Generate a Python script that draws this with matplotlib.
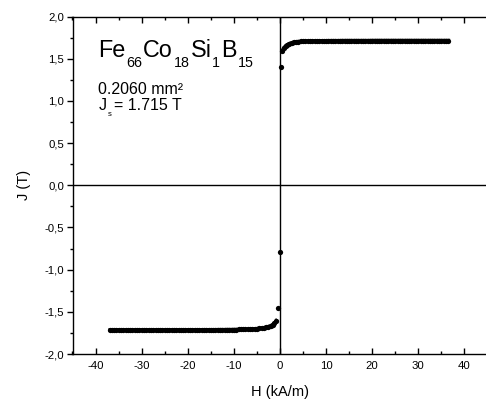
"""
Hysteresis loop J(H) for Fe66Co18Si1B15 ribbon.
"""

import numpy as np
import matplotlib.pyplot as plt
from matplotlib.ticker import MultipleLocator, FuncFormatter

plt.rcParams["font.family"] = ["Liberation Sans", "DejaVu Sans"]

# ascending branch (H > 0), kA/m and T
h_up = [0.15, 0.5, 0.8, 1.2, 1.6, 2.0, 2.5, 3.0, 3.5, 4.0, 4.5, 5.0, 5.5, 6.0,
        6.5, 7.0, 7.5, 8.0, 8.5, 9.0, 9.5, 10.0, 10.5, 11.0, 11.5, 12.0, 12.5,
        13.0, 13.5, 14.0, 14.5, 15.0, 15.5, 16.0, 16.5, 17.0, 17.5, 18.0, 18.5,
        19.0, 19.5, 20.0, 20.5, 21.0, 21.5, 22.0, 22.5, 23.0, 23.5, 24.0, 24.5,
        25.0, 25.5, 26.0, 26.5, 27.0, 27.5, 28.0, 28.5, 29.0, 29.5, 30.0, 30.5,
        31.0, 31.5, 32.0, 32.5, 33.0, 33.5, 34.0, 34.5, 35.0, 35.5, 36.0, 36.5]
j_up = [1.40, 1.59, 1.625, 1.65, 1.665, 1.678, 1.688, 1.695, 1.70, 1.703,
        1.705, 1.707, 1.708, 1.709, 1.710, 1.710, 1.711, 1.711, 1.712, 1.712,
        1.712, 1.712, 1.713, 1.713, 1.713, 1.713, 1.713, 1.713, 1.714, 1.714,
        1.714, 1.714, 1.714, 1.714, 1.714, 1.714, 1.714, 1.714, 1.714, 1.714,
        1.714, 1.715, 1.715, 1.715, 1.715, 1.715, 1.715, 1.715, 1.715, 1.715,
        1.715, 1.715, 1.715, 1.715, 1.715, 1.715, 1.715, 1.715, 1.715, 1.715,
        1.715, 1.715, 1.715, 1.715, 1.715, 1.715, 1.715, 1.715, 1.715, 1.715,
        1.715, 1.715, 1.715, 1.715, 1.715]

# descending branch (H < 0)
h_down = [-0.05, -0.4, -0.8, -1.2, -1.6, -2.0, -2.5, -3.0, -3.5, -4.0, -4.5,
          -5.0, -5.5, -6.0, -6.5, -7.0, -7.5, -8.0, -8.5, -9.0, -9.5, -10.0,
          -10.5, -11.0, -11.5, -12.0, -12.5, -13.0, -13.5, -14.0, -14.5, -15.0,
          -15.5, -16.0, -16.5, -17.0, -17.5, -18.0, -18.5, -19.0, -19.5, -20.0,
          -20.5, -21.0, -21.5, -22.0, -22.5, -23.0, -23.5, -24.0, -24.5, -25.0,
          -25.5, -26.0, -26.5, -27.0, -27.5, -28.0, -28.5, -29.0, -29.5, -30.0,
          -30.5, -31.0, -31.5, -32.0, -32.5, -33.0, -33.5, -34.0, -34.5, -35.0,
          -35.5, -36.0, -36.5, -36.8]
j_down = [-0.79, -1.46, -1.605, -1.635, -1.652, -1.665, -1.675, -1.683, -1.689,
          -1.693, -1.697, -1.700, -1.702, -1.704, -1.705, -1.706, -1.707, -1.708,
          -1.709, -1.709, -1.710, -1.710, -1.711, -1.711, -1.711, -1.712, -1.712,
          -1.712, -1.712, -1.713, -1.713, -1.713, -1.713, -1.713, -1.713, -1.714,
          -1.714, -1.714, -1.714, -1.714, -1.714, -1.714, -1.714, -1.715, -1.715,
          -1.715, -1.715, -1.715, -1.715, -1.715, -1.715, -1.715, -1.715, -1.715,
          -1.715, -1.715, -1.715, -1.715, -1.715, -1.715, -1.715, -1.715, -1.715,
          -1.715, -1.715, -1.715, -1.715, -1.715, -1.715, -1.715, -1.715, -1.715,
          -1.715, -1.715, -1.715, -1.715]

# formula pieces: (text, is_subscript)
formula = [("Fe", False), ("66", True), ("Co", False), ("18", True),
           ("Si", False), ("1", True), ("B", False), ("15", True)]

fig = plt.figure(figsize=(4.86, 3.99), dpi=100)
ax = fig.add_axes([72.5 / 486, 45 / 399, 415 / 486, 337.5 / 399])

ax.axhline(0, color="black", lw=1.0, zorder=1)
ax.axvline(0, color="black", lw=1.0, zorder=1)
# saturated parts look like a thick dotted band; join points with a thick line
ax.plot(h_up[1:], j_up[1:], "-", color="black", lw=2.6, zorder=2)
ax.plot(h_down[2:], j_down[2:], "-", color="black", lw=2.6, zorder=2)
ax.plot(h_up, j_up, "o", color="black", ms=3.8, mew=0, zorder=3)
ax.plot(h_down, j_down, "o", color="black", ms=3.8, mew=0, zorder=3)

ax.set_xlim(-45, 45)
ax.set_ylim(-2.0, 2.0)
ax.xaxis.set_major_locator(MultipleLocator(10))
ax.xaxis.set_minor_locator(MultipleLocator(5))
ax.yaxis.set_major_locator(MultipleLocator(0.5))
ax.yaxis.set_minor_locator(MultipleLocator(0.25))
ax.yaxis.set_major_formatter(FuncFormatter(lambda v, p: f"{v:.1f}".replace(".", ",")))
ax.xaxis.set_major_formatter(FuncFormatter(lambda v, p: f"{v:.0f}"))

ax.tick_params(axis="x", which="both", direction="in", top=True, labelsize=8.2, pad=5)
ax.tick_params(axis="y", which="both", direction="out", labelsize=8.2, pad=2)
ax.tick_params(which="major", length=4, width=1)
ax.tick_params(which="minor", length=2.5, width=1)
ax.tick_params(axis="y", which="both", right=True)
for sp in ax.spines.values():
    sp.set_linewidth(1.0)

ax.set_xlabel("H (kA/m)", fontsize=10.5, labelpad=10)
ax.set_ylabel("J (T)", fontsize=10.5, labelpad=10)

# build the formula piece by piece so subscripts sit low like the original;
# x follows the previous piece, y is a fixed baseline in axes fraction
base_y = 0.881
prev = ax.text(0.062, base_y, formula[0][0], transform=ax.transAxes,
               fontsize=16.8, va="baseline", ha="left")
for txt, sub in formula[1:]:
    prev = ax.annotate(txt, xy=(1, base_y), xycoords=(prev, "axes fraction"),
                       xytext=(0.6, -7.3 if sub else 0), textcoords="offset points",
                       fontsize=10.3 if sub else 16.8, va="baseline", ha="left")

ax.text(0.062, 0.770, "0.2060 mm²", transform=ax.transAxes,
        fontsize=11.5, va="baseline", ha="left")
j_y = 0.723
j_txt = ax.text(0.062, j_y, "J", transform=ax.transAxes,
                fontsize=11.5, va="baseline", ha="left")
s_txt = ax.annotate("s", xy=(1, j_y), xycoords=(j_txt, "axes fraction"),
                    xytext=(0.8, -4.5), textcoords="offset points",
                    fontsize=5.5, va="baseline", ha="left")
ax.annotate("= 1.715 T", xy=(1, j_y), xycoords=(s_txt, "axes fraction"),
            xytext=(1.8, 0), textcoords="offset points",
            fontsize=11.5, va="baseline", ha="left")

fig.savefig("out.png", dpi=100)
